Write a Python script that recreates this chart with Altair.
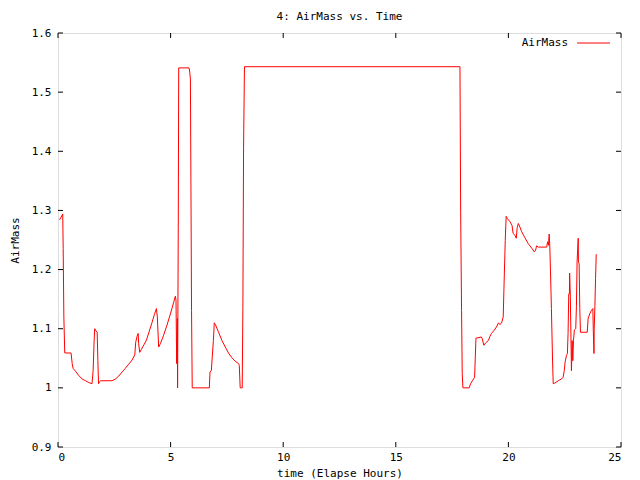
import altair as alt
import pandas as pd

# Elapsed time (hours) and AirMass values
time_h = [0.07, 0.21, 0.23, 0.26, 0.30, 0.58, 0.63, 0.67, 0.78, 0.92, 1.07, 1.22, 1.37, 1.51,
          1.56, 1.60, 1.63, 1.69, 1.74, 1.77, 1.80, 1.84, 1.90, 2.40, 2.55, 2.70, 2.85, 2.99,
          3.14, 3.29, 3.41, 3.45, 3.51, 3.56, 3.58, 3.63, 3.70, 3.82, 3.93, 4.03, 4.18, 4.28,
          4.37, 4.41, 4.47, 4.55, 4.69, 4.84, 4.99, 5.14, 5.21, 5.24, 5.27, 5.30, 5.31, 5.34,
          5.36, 5.82, 5.85, 5.88, 5.93, 5.96, 6.72, 6.75, 6.81, 6.84, 6.90, 6.94, 6.99, 7.13,
          7.28, 7.43, 7.57, 7.72, 7.87, 8.02, 8.05, 8.09, 8.18, 8.21, 8.24, 8.28,
          17.85, 17.88, 17.92, 17.95, 17.98, 18.26, 18.32, 18.40, 18.50, 18.53, 18.56, 18.80,
          18.84, 18.91, 18.99, 19.11, 19.18, 19.25, 19.36, 19.47, 19.56, 19.62, 19.70, 19.77,
          19.80, 19.86, 19.90, 19.96, 20.07, 20.16, 20.21, 20.29, 20.35, 20.39, 20.44, 20.51,
          20.59, 20.73, 20.88, 21.04, 21.15, 21.21, 21.25, 21.33, 21.70, 21.74, 21.78, 21.81,
          21.84, 21.87, 21.91, 21.96, 21.99, 22.06, 22.21, 22.36, 22.43, 22.48, 22.52, 22.58,
          22.62, 22.65, 22.68, 22.71, 22.72, 22.75, 22.80, 22.83, 22.86, 22.89, 22.93, 22.99,
          23.02, 23.05, 23.10, 23.11, 23.14, 23.17, 23.20, 23.50, 23.54, 23.61, 23.69, 23.75,
          23.77, 23.80, 23.81, 23.84, 23.87, 23.90]
airmass = [1.284, 1.294, 1.236, 1.120, 1.059, 1.059, 1.041, 1.033, 1.028, 1.021, 1.015, 1.012,
           1.009, 1.007, 1.029, 1.076, 1.100, 1.096, 1.094, 1.046, 1.007, 1.010, 1.012, 1.012,
           1.015, 1.020, 1.027, 1.033, 1.040, 1.047, 1.056, 1.077, 1.087, 1.092, 1.075, 1.060,
           1.065, 1.073, 1.081, 1.093, 1.111, 1.124, 1.134, 1.120, 1.069, 1.075, 1.089, 1.106,
           1.125, 1.145, 1.155, 1.148, 1.041, 1.117, 1.000, 1.269, 1.541, 1.541, 1.534, 1.522,
           1.131, 1.000, 1.000, 1.027, 1.029, 1.047, 1.080, 1.110, 1.107, 1.094, 1.080, 1.069,
           1.059, 1.051, 1.045, 1.041, 1.038, 1.000, 1.000, 1.136, 1.407, 1.543,
           1.543, 1.297, 1.131, 1.024, 1.000, 1.000, 1.007, 1.012, 1.018, 1.052, 1.084, 1.086,
           1.083, 1.072, 1.076, 1.080, 1.087, 1.092, 1.097, 1.103, 1.110, 1.107, 1.110, 1.120,
           1.165, 1.249, 1.290, 1.286, 1.281, 1.275, 1.261, 1.258, 1.253, 1.271, 1.278, 1.272,
           1.264, 1.254, 1.244, 1.236, 1.230, 1.233, 1.240, 1.238, 1.238, 1.247, 1.241, 1.260,
           1.238, 1.196, 1.134, 1.047, 1.007, 1.008, 1.012, 1.015, 1.018, 1.029, 1.044, 1.055,
           1.058, 1.092, 1.159, 1.159, 1.194, 1.154, 1.029, 1.080, 1.046, 1.080, 1.098, 1.100,
           1.137, 1.213, 1.253, 1.213, 1.210, 1.134, 1.094, 1.094, 1.117, 1.125, 1.131, 1.134,
           1.097, 1.058, 1.100, 1.137, 1.185, 1.226]

x_ticks = [0, 5, 10, 15, 20, 25]
y_ticks = [0.9, 1.0, 1.1, 1.2, 1.3, 1.4, 1.5, 1.6]

W, H = 563, 414
TL = 5
FONT = "DejaVu Sans Mono"

df = pd.DataFrame({"t": time_h, "am": airmass, "i": list(range(len(time_h)))})
xt = pd.DataFrame({"t": x_ticks})
yt = pd.DataFrame({"am": y_ticks})

xs = alt.Scale(domain=[0, 25], nice=False, zero=False)
ys = alt.Scale(domain=[0.9, 1.6], nice=False, zero=False)

line = alt.Chart(df).mark_line(color="#ff0000", strokeWidth=1).encode(
    x=alt.X("t:Q", scale=xs, axis=alt.Axis(values=x_ticks, title="time (Elapse Hours)", ticks=False,
                                           domain=False, grid=False, labelPadding=4, titlePadding=5,
                                           labelFont=FONT, titleFont=FONT, labelFontSize=11,
                                           titleFontSize=11, titleFontWeight="normal", labelColor="black",
                                           titleColor="black")),
    y=alt.Y("am:Q", scale=ys, axis=alt.Axis(values=y_ticks, format=".1~f", title="AirMass", ticks=False,
                                            domain=False, grid=False, labelPadding=7, titlePadding=11,
                                            labelFont=FONT, titleFont=FONT, labelFontSize=11,
                                            titleFontSize=11, titleFontWeight="normal", labelColor="black",
                                            titleColor="black")),
    order="i:Q",
)

yl = alt.Chart(yt).mark_rule(color="black", strokeWidth=1).encode(
    y=alt.Y("am:Q", scale=ys), x=alt.value(0), x2=alt.value(TL))
yr = alt.Chart(yt).mark_rule(color="black", strokeWidth=1).encode(
    y=alt.Y("am:Q", scale=ys), x=alt.value(W - TL), x2=alt.value(W))
xb = alt.Chart(xt).mark_rule(color="black", strokeWidth=1).encode(
    x=alt.X("t:Q", scale=xs), y=alt.value(H), y2=alt.value(H - TL))
xtp = alt.Chart(xt).mark_rule(color="black", strokeWidth=1).encode(
    x=alt.X("t:Q", scale=xs), y=alt.value(0), y2=alt.value(TL))

leg = pd.DataFrame({"label": ["AirMass"]})
leg_text = alt.Chart(leg).mark_text(align="right", baseline="middle", font=FONT, fontSize=11,
                                    color="black").encode(
    text="label:N", x=alt.value(510), y=alt.value(10))
leg_line = alt.Chart(leg).mark_rule(color="#ff0000", strokeWidth=1).encode(
    x=alt.value(519), x2=alt.value(552), y=alt.value(10))

chart = alt.layer(line, yl, yr, xb, xtp, leg_text, leg_line).properties(
    width=W, height=H,
    title=alt.TitleParams("4: AirMass vs. Time", font=FONT, fontSize=11, fontWeight="normal",
                          color="black", anchor="middle", offset=5),
    autosize=alt.AutoSizeParams(type="none"),
    padding={"left": 50, "top": 25, "right": 10, "bottom": 36},
).configure_view(stroke="black", strokeWidth=1).configure(background="white")

chart.save("out.html", embed_options={"renderer": "svg", "actions": False})
